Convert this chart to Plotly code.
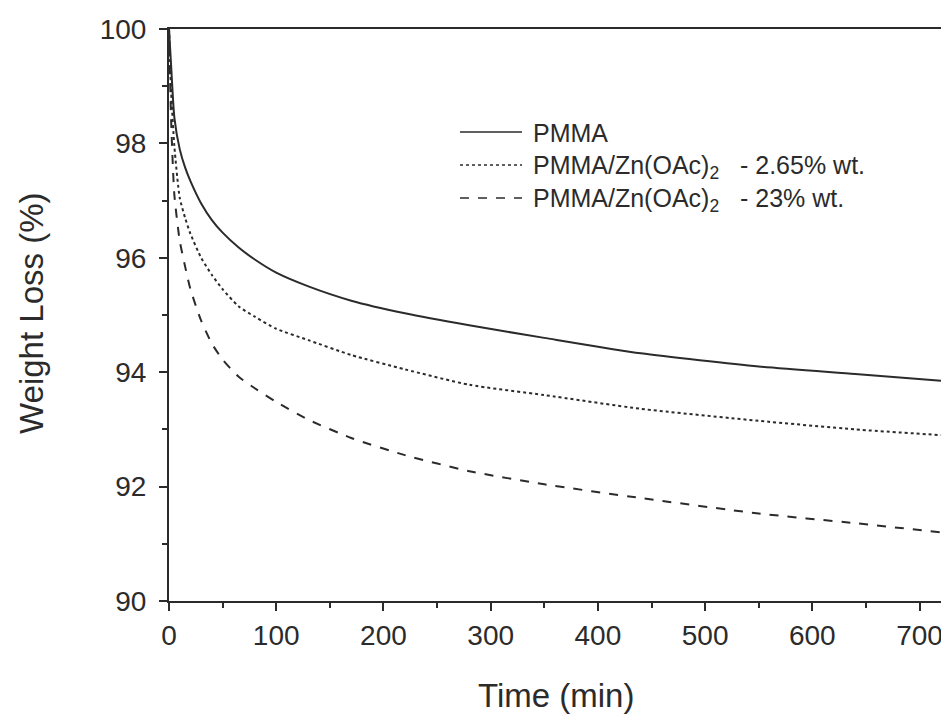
import plotly.graph_objects as go

time_min = [0, 2, 5, 10, 15, 20, 30, 40, 50, 65, 80, 100, 130, 170, 220, 280, 350, 440, 550, 640, 720]
pmma = [100, 99.35, 98.45, 97.9, 97.58, 97.34, 96.95, 96.66, 96.44, 96.18, 95.97, 95.74, 95.5, 95.25, 95.03, 94.82, 94.6, 94.33, 94.1, 93.97, 93.85]
pmma_zn_265 = [100, 98.9, 97.95, 97.05, 96.7, 96.42, 96.0, 95.7, 95.45, 95.15, 94.97, 94.76, 94.56, 94.3, 94.05, 93.78, 93.6, 93.36, 93.15, 93.0, 92.9]
pmma_zn_23 = [100, 98.4, 97.1, 96.3, 95.85, 95.45, 94.9, 94.5, 94.22, 93.92, 93.72, 93.48, 93.17, 92.85, 92.55, 92.27, 92.04, 91.8, 91.53, 91.36, 91.2]

series_names = ["PMMA", "PMMA/Zn(OAc)<sub>2</sub>   - 2.65% wt.", "PMMA/Zn(OAc)<sub>2</sub>   - 23% wt."]
series_dash = ["solid", "dot", "dash"]
series_values = [pmma, pmma_zn_265, pmma_zn_23]

x_ticks = [0, 100, 200, 300, 400, 500, 600, 700]
y_ticks = [90, 92, 94, 96, 98, 100]

ink = "#2b2b2b"
FONT = "Liberation Sans, Arial, sans-serif"

fig = go.Figure()
for name, vals, dash in zip(series_names, series_values, series_dash):
    fig.add_trace(go.Scatter(
        x=time_min, y=vals, mode="lines", name=name,
        line=dict(color=ink, width=2, dash=dash, shape="spline", smoothing=0.6),
        showlegend=False,
    ))

# screen-space reference geometry (page has 8px body margin)
SL, SR, ST, SB = 169, 941, 29, 601
def px(x): return (x - SL) / (SR - SL)
def py(y): return (SB - y) / (SB - ST)

# manual legend
rows_line = [132, 165, 198]
rows_text = [133, 167, 200]
for name, dash, yl, yt in zip(series_names, series_dash, rows_line, rows_text):
    fig.add_shape(type="line", xref="paper", yref="paper",
                  x0=px(460), x1=px(522), y0=py(yl), y1=py(yl),
                  line=dict(color=ink, width=1.6, dash=dash))
    fig.add_annotation(xref="paper", yref="paper", x=px(531), y=py(yt),
                       text=name, showarrow=False, xanchor="left", yanchor="middle",
                       font=dict(family=FONT, size=25, color=ink))

# axis titles
fig.add_annotation(xref="paper", yref="paper", x=px(556), y=py(695),
                   text="Time (min)", showarrow=False, xanchor="center", yanchor="middle",
                   font=dict(family=FONT, size=33, color=ink))
fig.add_annotation(xref="paper", yref="paper", x=px(31), y=py(314),
                   text="Weight Loss (%)", showarrow=False, textangle=-90,
                   xanchor="center", yanchor="middle",
                   font=dict(family=FONT, size=33, color=ink))

axis_common = dict(
    showgrid=False, zeroline=False, showline=True, linecolor=ink, linewidth=2,
    mirror=True, ticks="outside", ticklen=8, tickwidth=2, tickcolor=ink,
    tickfont=dict(family=FONT, size=28, color=ink),
)

W, H = 941, 711
L, R, T, B = SL - 8, SR - 8, ST - 8, SB - 8
fig.update_layout(
    width=W, height=H,
    margin=dict(l=L, r=W - R, t=T, b=H - B, autoexpand=False),
    plot_bgcolor="white", paper_bgcolor="white",
    xaxis=dict(range=[0, 720], tickvals=x_ticks, ticklabelstandoff=0,
               minor=dict(dtick=50, tick0=0, ticks="outside", ticklen=5, tickwidth=2, tickcolor=ink),
               **axis_common),
    yaxis=dict(range=[90, 100], tickvals=y_ticks, ticklabelstandoff=7,
               minor=dict(dtick=1, tick0=90, ticks="outside", ticklen=5, tickwidth=2, tickcolor=ink),
               **axis_common),
)

fig.write_html("out.html")
